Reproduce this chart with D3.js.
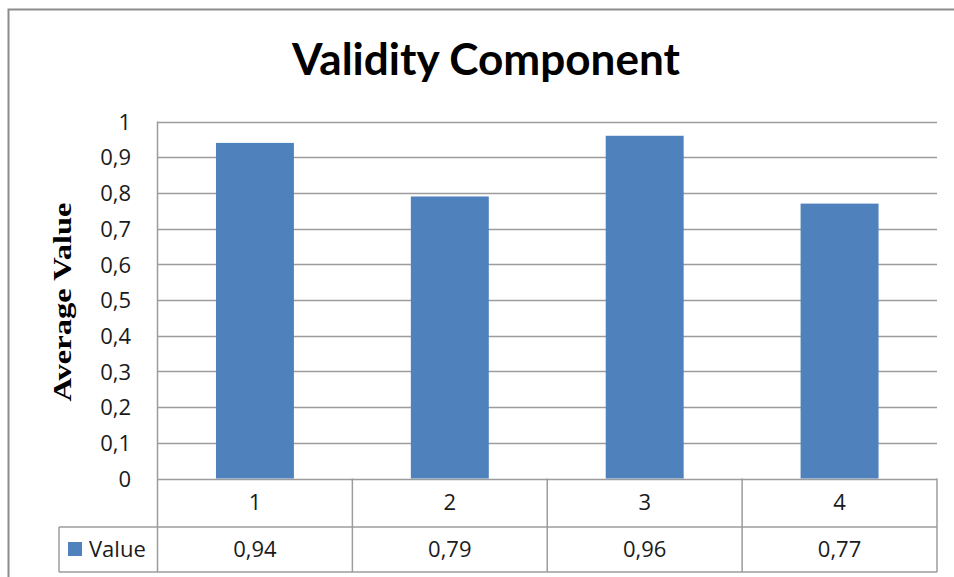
<!DOCTYPE html>
<html><head><meta charset="utf-8">
<script src="https://cdn.jsdelivr.net/npm/d3@7"></script>
<style>body{margin:0;background:#fff}</style>
</head><body>
<svg id="c" width="954" height="577"></svg>
<script>
const categories = ["1","2","3","4"];
const values = [0.94, 0.79, 0.96, 0.77];
const valueLabels = ["0,94","0,79","0,96","0,77"];
const yTicks = [0,0.1,0.2,0.3,0.4,0.5,0.6,0.7,0.8,0.9,1];
const seriesName = "Value";
const title = "Validity Component";
const yTitle = "Average Value";

const svg = d3.select("#c");
const W = 954, H = 577;
const m = {left:157.5, right:937, top:121.5, bottom:478.5};
const tableRow1 = 527, tableRow2 = 572, legendLeft = 59;
const gridColor = "#9c9c9c";
const sans = "'Open Sans', Lato, sans-serif";
const fs = 22;

// outer border
svg.append("rect").attr("x",8.5).attr("y",9.5).attr("width",W+10).attr("height",H+10)
  .attr("fill","#fff").attr("stroke","#8c8c8c").attr("stroke-width",2);

const x = d3.scaleBand().domain(categories).range([m.left,m.right]).paddingInner(0).paddingOuter(0);
const y = d3.scaleLinear().domain([0,1]).range([m.bottom,m.top]);

// gridlines
svg.append("g").selectAll("line").data(yTicks).join("line")
  .attr("x1",m.left).attr("x2",m.right)
  .attr("y1",d=>Math.round(y(d))+0.5).attr("y2",d=>Math.round(y(d))+0.5)
  .attr("stroke",gridColor).attr("stroke-width",1.5);
// left axis line
svg.append("line").attr("x1",m.left).attr("x2",m.left).attr("y1",m.top).attr("y2",tableRow2)
  .attr("stroke",gridColor).attr("stroke-width",1.5);

// y tick labels
const yAxis = d3.axisLeft(y).tickValues(yTicks).tickSize(0).tickPadding(0)
  .tickFormat(d=>d3.format(".1~f")(d).replace(".",","));
const ga = svg.append("g").attr("transform",`translate(${131},0)`).call(yAxis);
ga.select(".domain").remove();
ga.selectAll("text").attr("font-family",sans).attr("font-size",fs).attr("fill","#1a1a1a").attr("dy","0.35em");

// bars
const bw = x.bandwidth()*0.4;
svg.append("g").selectAll("rect").data(values).join("rect")
  .attr("x",(d,i)=>x(categories[i])+x.bandwidth()/2-bw/2)
  .attr("width",bw)
  .attr("y",d=>y(d)).attr("height",d=>y(0)-y(d))
  .attr("fill","#4F81BD");

// data table
const t = svg.append("g").attr("stroke",gridColor).attr("stroke-width",1.5);
t.append("line").attr("x1",legendLeft).attr("x2",m.right).attr("y1",tableRow1).attr("y2",tableRow1);
t.append("line").attr("x1",legendLeft).attr("x2",m.right).attr("y1",tableRow2).attr("y2",tableRow2);
t.append("line").attr("x1",legendLeft).attr("x2",legendLeft).attr("y1",tableRow1).attr("y2",tableRow2);
t.selectAll(".v").data(categories).join("line")
  .attr("x1",d=>x(d)+x.bandwidth()).attr("x2",d=>x(d)+x.bandwidth())
  .attr("y1",m.bottom).attr("y2",tableRow2);

svg.append("g").selectAll("text").data(categories).join("text")
  .attr("x",d=>x(d)+x.bandwidth()/2).attr("y",(m.bottom+tableRow1)/2)
  .attr("dy","0.35em").attr("text-anchor","middle")
  .attr("font-family",sans).attr("font-size",fs).attr("fill","#1a1a1a").text(d=>d);
svg.append("g").selectAll("text").data(valueLabels).join("text")
  .attr("x",(d,i)=>x(categories[i])+x.bandwidth()/2).attr("y",(tableRow1+tableRow2)/2)
  .attr("dy","0.35em").attr("text-anchor","middle")
  .attr("font-family",sans).attr("font-size",fs).attr("fill","#1a1a1a").text(d=>d);

// legend
svg.append("rect").attr("x",68).attr("y",542).attr("width",14).attr("height",14).attr("fill","#4F81BD");
svg.append("text").attr("x",89).attr("y",(tableRow1+tableRow2)/2).attr("dy","0.35em")
  .attr("font-family",sans).attr("font-size",fs).attr("fill","#1a1a1a").text(seriesName);

// title
svg.append("text").attr("x",486).attr("y",75).attr("text-anchor","middle")
  .attr("font-family","Lato, 'Open Sans', sans-serif").attr("font-weight","bold").attr("font-size",43)
  .attr("textLength",388).attr("lengthAdjust","spacingAndGlyphs")
  .attr("fill","#000").text(title);

// y axis title
svg.append("text").attr("transform","translate(71,302) rotate(-90)")
  .attr("text-anchor","middle")
  .attr("font-family","'Liberation Serif','Times New Roman',serif").attr("font-weight","bold")
  .attr("font-size",25).attr("textLength",199).attr("lengthAdjust","spacingAndGlyphs")
  .attr("fill","#000").text(yTitle);
</script>
</body></html>
